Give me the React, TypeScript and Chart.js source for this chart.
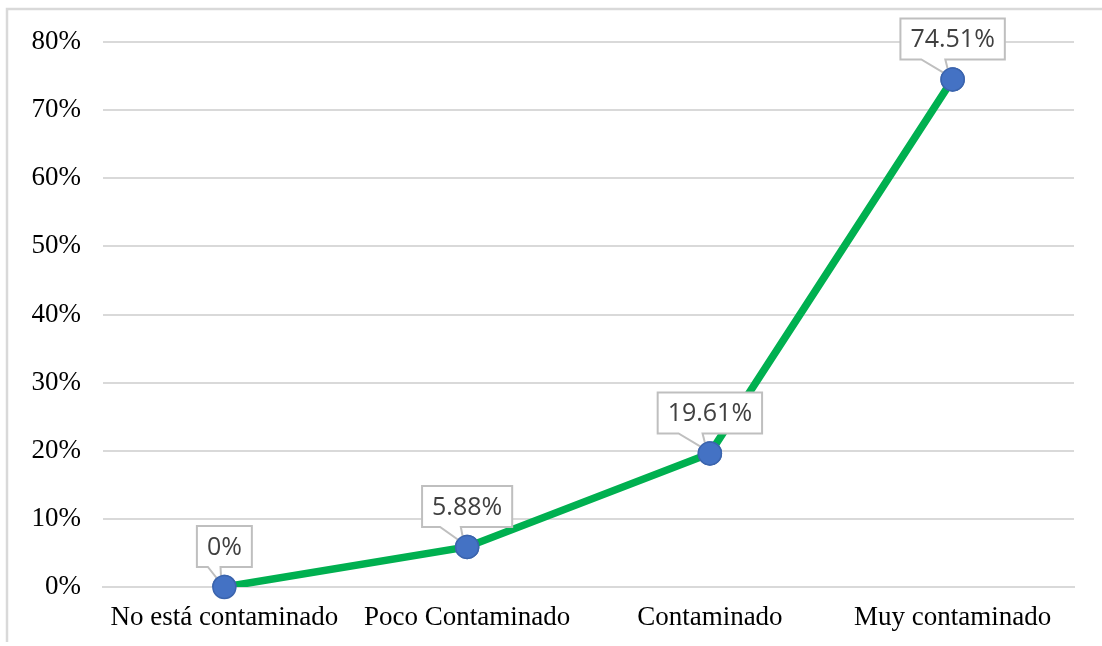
import React, { useEffect, useRef } from "react";
import { Chart, registerables } from "chart.js";

Chart.register(...registerables);

const categories = ["No está contaminado", "Poco Contaminado", "Contaminado", "Muy contaminado"];
const percentValues = [0, 5.88, 19.61, 74.51];
const valueLabels = ["0%", "5.88%", "19.61%", "74.51%"];
const yTicks = [0, 10, 20, 30, 40, 50, 60, 70, 80];

const GRID = "#d9d9d9";
const SERIF = "'Liberation Serif', 'Times New Roman', serif";

// Outer frame of the chart area (left and top edges visible)
const framePlugin = {
  id: "frame",
  beforeDraw(chart: any) {
    const ctx = chart.ctx;
    ctx.save();
    ctx.fillStyle = "#ffffff";
    ctx.fillRect(0, 0, chart.width, chart.height);
    ctx.strokeStyle = GRID;
    ctx.lineWidth = 2.5;
    ctx.beginPath();
    ctx.moveTo(7, 642);
    ctx.lineTo(7, 9);
    ctx.lineTo(chart.width + 5, 9);
    ctx.stroke();
    ctx.restore();
  },
};

// Callout-style value labels with a pointer to each point
const calloutPlugin = {
  id: "callouts",
  afterDatasetsDraw(chart: any) {
    const ctx = chart.ctx;
    const meta = chart.getDatasetMeta(0);
    ctx.save();
    ctx.font = "25px 'Open Sans', 'Noto Sans', sans-serif";
    meta.data.forEach((pt: any, i: number) => {
      const text = valueLabels[i];
      const tw = ctx.measureText(text).width;
      const w = tw + 20;
      const h = 41;
      const left = pt.x - w / 2;
      const bottom = pt.y - 20;
      const top = bottom - h;
      const b1 = left + w * 0.2;
      const b2 = left + w * 0.43;
      const tipX = pt.x - 3;
      const tipY = pt.y - 3;
      ctx.beginPath();
      ctx.moveTo(left, top);
      ctx.lineTo(left + w, top);
      ctx.lineTo(left + w, bottom);
      ctx.lineTo(b2, bottom);
      ctx.lineTo(tipX, tipY);
      ctx.lineTo(b1, bottom);
      ctx.lineTo(left, bottom);
      ctx.closePath();
      ctx.fillStyle = "#ffffff";
      ctx.fill();
      ctx.strokeStyle = "#bfbfbf";
      ctx.lineWidth = 2;
      ctx.stroke();
      ctx.fillStyle = "#404040";
      ctx.textAlign = "center";
      ctx.textBaseline = "middle";
      ctx.fillText(text, pt.x, top + h / 2 + 1);
    });
    ctx.restore();
    // points sit above the callout pointers
    meta.data.forEach((pt: any) => pt.draw(ctx, chart.chartArea));
  },
};

export default function App() {
  const canvasRef = useRef<HTMLCanvasElement | null>(null);

  useEffect(() => {
    const canvas = canvasRef.current;
    if (!canvas) return;
    const chart = new Chart(canvas, {
      type: "line",
      data: {
        labels: categories,
        datasets: [
          {
            data: percentValues,
            borderColor: "#00b050",
            borderWidth: 7.5,
            pointRadius: 11.5,
            pointBackgroundColor: "#4472c4",
            pointBorderColor: "#3b64ad",
            pointBorderWidth: 1.5,
            tension: 0,
            fill: false,
          },
        ],
      },
      options: {
        animation: false,
        responsive: false,
        events: [],
        layout: { padding: { left: 8, right: 28, top: 42, bottom: 0 } },
        plugins: {
          legend: { display: false },
          tooltip: { enabled: false },
        },
        scales: {
          x: {
            offset: true,
            grid: { display: false, drawTicks: false },
            border: { display: true, color: GRID, width: 2 },
            ticks: {
              color: "#000000",
              padding: 15,
              maxRotation: 0,
              autoSkip: false,
              font: { family: SERIF, size: 27 },
            },
            afterFit(scale: any) {
              scale.height = 59;
            },
          },
          y: {
            min: 0,
            max: 80,
            afterBuildTicks(scale: any) {
              scale.ticks = yTicks.map((v) => ({ value: v }));
            },
            grid: { color: GRID, lineWidth: 2, drawTicks: false },
            border: { display: false },
            ticks: {
              color: "#000000",
              padding: 22,
              callback: (v: any) => `${v}%`,
              font: { family: SERIF, size: 27 },
            },
            afterFit(scale: any) {
              scale.width = 95;
            },
          },
        },
      },
      plugins: [framePlugin, calloutPlugin],
    });
    return () => chart.destroy();
  }, []);

  return (
    <div style={{ position: "fixed", left: 0, top: 0, width: 1102, height: 646, background: "#fff" }}>
      <canvas ref={canvasRef} width={1102} height={646} style={{ display: "block" }} />
    </div>
  );
}
